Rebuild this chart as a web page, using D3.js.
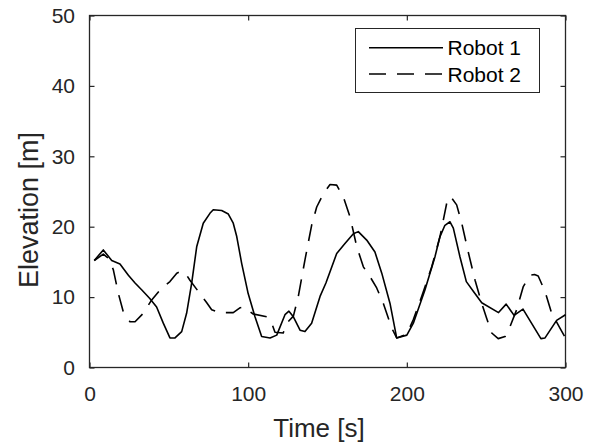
<!DOCTYPE html>
<html>
<head>
<meta charset="utf-8">
<script src="https://cdn.jsdelivr.net/npm/d3@7"></script>
<style>
  html, body { margin: 0; padding: 0; background: #fff; }
  svg { display: block; font-family: "Liberation Sans", Arial, Helvetica, sans-serif; }
</style>
</head>
<body>
<svg id="chart" width="594" height="446"></svg>
<script>
// Elevation traces of two robots over time
const time1 = [3, 8.7, 14, 19.2, 24.5, 28.7, 33, 38, 42.3, 46.5, 50.7, 53.9, 58.1, 61.2, 64.4, 67.6, 71.7, 75.9, 78, 83.3, 87.5, 90.6, 92.8, 95.9, 100, 104.3, 108.5, 113.8, 118, 123.2, 125.7, 128.5, 132.7, 135.8, 140, 145.3, 149, 155.8, 161, 166.3, 169.4, 174.7, 179.9, 184.2, 189.4, 193.6, 200, 204.1, 211.4, 217.7, 220.9, 224, 227.2, 229.3, 233.5, 237.5, 242, 247.2, 257.8, 262.6, 267.6, 273.2, 284.5, 287.1, 294.4, 300];
const robot1 = [15.2, 16.7, 15.2, 14.7, 13.1, 12.0, 11.0, 9.8, 8.6, 6.3, 4.2, 4.2, 5.1, 7.7, 12.0, 17.2, 20.5, 21.9, 22.4, 22.3, 21.8, 20.5, 18.6, 14.8, 10.5, 7.2, 4.4, 4.2, 4.6, 7.5, 8.0, 7.2, 5.3, 5.1, 6.3, 10.1, 12.0, 16.2, 17.6, 19.0, 19.3, 18.1, 16.4, 13.4, 9.1, 4.2, 4.6, 6.3, 11.0, 15.7, 18.6, 20.2, 20.7, 19.8, 15.7, 12.2, 10.8, 9.2, 7.8, 9.0, 7.4, 8.3, 4.1, 4.2, 6.7, 7.5];

const time2 = [3, 8.7, 11.9, 15, 18.2, 21.3, 25.5, 28.7, 33.9, 39.2, 45.5, 50.7, 55, 58, 61, 63.3, 68.6, 73.9, 77, 82.2, 90.6, 95, 97, 103.2, 111.7, 114.5, 116.9, 122.1, 124.3, 128.5, 131.6, 135.8, 140, 143.2, 147.4, 151.6, 155.8, 160, 164.2, 168.4, 172.6, 176.8, 181, 185.2, 190.5, 193.6, 199.9, 204.1, 209.4, 215.7, 220.9, 225.1, 227.5, 231.4, 234.6, 238.7, 243, 247.2, 250.3, 253.5, 257.6, 261.9, 265, 269.2, 273.4, 277.6, 280.5, 282.8, 287.1, 291.3, 296.5, 300];
const robot2 = [15.2, 16.1, 15.5, 13.9, 10.5, 7.9, 6.5, 6.5, 7.7, 9.6, 11.3, 12.2, 13.4, 13.7, 13.2, 12.4, 10.8, 9.2, 8.2, 7.8, 7.8, 8.5, 8.6, 7.6, 7.2, 6.5, 5.0, 4.9, 6.3, 7.3, 10.1, 15.3, 20.2, 22.8, 24.7, 26.0, 25.9, 24.2, 21.4, 17.2, 14.3, 12.9, 11.3, 9.1, 5.6, 4.2, 4.7, 6.8, 10.1, 14.3, 18.6, 23.3, 24.3, 23.1, 20.5, 16.4, 12.4, 9.1, 7.0, 4.9, 4.1, 4.4, 5.8, 8.2, 11.5, 13.1, 13.2, 13.0, 10.8, 7.7, 5.6, 4.2];

const seriesNames = ["Robot 1", "Robot 2"];
const xTicks = [0, 100, 200, 300];
const yTicks = [0, 10, 20, 30, 40, 50];
const xTitle = "Time [s]";
const yTitle = "Elevation [m]";

const svg = d3.select("#chart");
const axisColor = "#262626";
const box = { left: 89.5, right: 565.5, top: 15.5, bottom: 367.5 };

const x = d3.scaleLinear().domain([0, 300]).range([box.left, box.right]);
const y = d3.scaleLinear().domain([0, 50]).range([box.bottom, box.top]);

const tickFont = 21;

function styleAxis(g) {
  g.select(".domain").remove();
  g.selectAll(".tick line").attr("stroke", axisColor).attr("stroke-width", 1.2);
  g.selectAll(".tick text").attr("fill", axisColor).attr("font-size", tickFont)
    .attr("font-family", "Liberation Sans, Arial, sans-serif");
}

// bottom and left axes with inward ticks
svg.append("g").attr("transform", `translate(0,${box.bottom})`)
  .call(d3.axisBottom(x).tickValues(xTicks).tickSizeInner(-5).tickSizeOuter(0).tickPadding(18.5))
  .call(styleAxis);
svg.append("g").attr("transform", `translate(${box.left},0)`)
  .call(d3.axisLeft(y).tickValues(yTicks).tickSizeInner(-5).tickSizeOuter(0).tickPadding(14.5))
  .call(styleAxis);
// mirrored ticks on top and right
svg.append("g").attr("transform", `translate(0,${box.top})`)
  .call(d3.axisTop(x).tickValues(xTicks).tickSizeInner(-5).tickSizeOuter(0).tickFormat(""))
  .call(styleAxis);
svg.append("g").attr("transform", `translate(${box.right},0)`)
  .call(d3.axisRight(y).tickValues(yTicks).tickSizeInner(-5).tickSizeOuter(0).tickFormat(""))
  .call(styleAxis);

// axes box
svg.append("rect")
  .attr("x", box.left).attr("y", box.top)
  .attr("width", box.right - box.left).attr("height", box.bottom - box.top)
  .attr("fill", "none").attr("stroke", axisColor).attr("stroke-width", 1.3);

// data lines
const line = d3.line().x(d => x(d[0])).y(d => y(d[1]));
const dash = "17,11";
svg.append("path")
  .datum(d3.zip(time1, robot1))
  .attr("d", line)
  .attr("fill", "none").attr("stroke", "#000").attr("stroke-width", 1.6)
  .attr("stroke-linejoin", "round");
svg.append("path")
  .datum(d3.zip(time2, robot2))
  .attr("d", line)
  .attr("fill", "none").attr("stroke", "#000").attr("stroke-width", 1.6)
  .attr("stroke-dasharray", dash).attr("stroke-linejoin", "round");

// legend
const legend = svg.append("g");
legend.append("rect")
  .attr("x", 355.5).attr("y", 28.5).attr("width", 184).attr("height", 64)
  .attr("fill", "#fff").attr("stroke", axisColor).attr("stroke-width", 1);
const rows = [
  { name: seriesNames[0], ly: 47.7, ty: 55, dash: null },
  { name: seriesNames[1], ly: 74, ty: 81.7, dash: dash }
];
rows.forEach(r => {
  legend.append("line")
    .attr("x1", 369).attr("x2", 443).attr("y1", r.ly).attr("y2", r.ly)
    .attr("stroke", "#000").attr("stroke-width", 1.6)
    .attr("stroke-dasharray", r.dash);
  legend.append("text")
    .attr("x", 447.5).attr("y", r.ty)
    .attr("font-size", tickFont).attr("fill", "#000")
    .text(r.name);
});

// axis titles
svg.append("text")
  .attr("x", 319).attr("y", 436.5)
  .attr("text-anchor", "middle").attr("font-size", 26).attr("fill", axisColor)
  .text(xTitle);
svg.append("text")
  .attr("transform", "translate(37.5,210) rotate(-90)")
  .attr("text-anchor", "middle").attr("font-size", 27).attr("fill", axisColor)
  .text(yTitle);
</script>
</body>
</html>
